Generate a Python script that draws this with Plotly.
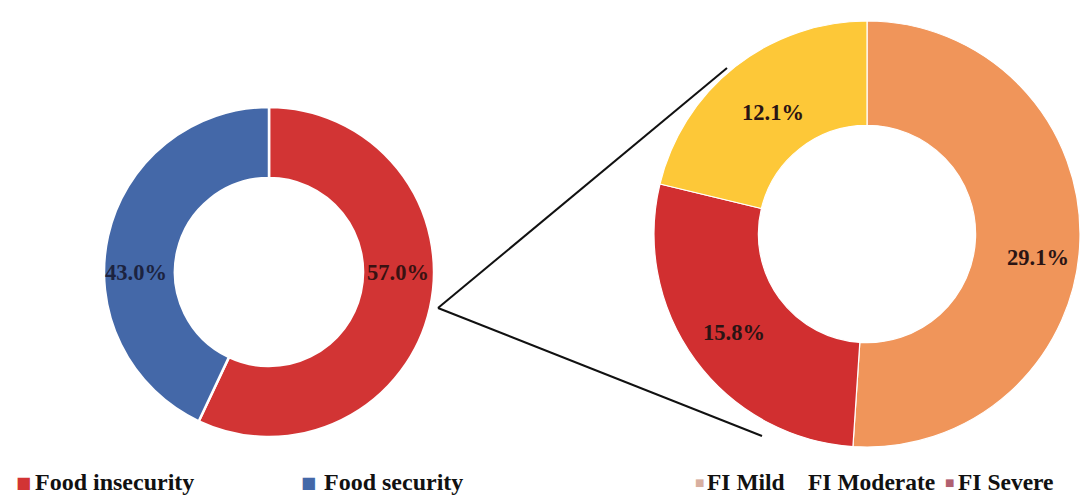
import plotly.graph_objects as go

# ---- data ----
left_labels = ["Food insecurity", "Food security"]
left_values = [57.0, 43.0]
left_text = ["57.0%", "43.0%"]
left_colors = ["#D23434", "#4468A8"]
left_text_colors = ["#3a1212", "#1c2340"]

right_labels = ["FI Mild", "FI Severe", "FI Moderate"]
right_values = [29.1, 15.8, 12.1]
right_text = ["29.1%", "15.8%", "12.1%"]
right_colors = ["#F0955A", "#D12F30", "#FDC838"]

legend_left = ["Food insecurity", "Food security"]
legend_right = ["FI Mild", "FI Moderate", "FI Severe"]

W, H = 1080, 495
FONT = "Liberation Serif"

fig = go.Figure()

fig.add_trace(go.Pie(
    labels=left_labels, values=left_values, text=left_text,
    textinfo="none",
    hole=0.57, sort=False, direction="clockwise", rotation=0,
    marker=dict(colors=left_colors, line=dict(color="white", width=2.5)),
    domain=dict(x=[104 / W, 434 / W], y=[58 / H, 388 / H]),
    showlegend=False, hoverinfo="label+percent",
))

fig.add_trace(go.Pie(
    labels=right_labels, values=right_values, text=right_text,
    textinfo="none",
    hole=0.51, sort=False, direction="clockwise", rotation=0,
    marker=dict(colors=right_colors, line=dict(color="white", width=1.2)),
    domain=dict(x=[654 / W, 1.0], y=[48 / H, 474 / H]),
    showlegend=False, hoverinfo="label+percent",
))

# pixel -> paper helper
def px(x, y):
    return x / W, 1 - y / H

# data labels, placed as in the reference
left_label_px = [(398, 272), (136, 272)]
for i, t in enumerate(left_text):
    p = px(*left_label_px[i])
    fig.add_annotation(x=p[0], y=p[1], xref="paper", yref="paper", text=t,
                       showarrow=False, xanchor="center", yanchor="middle",
                       font=dict(family=FONT, size=22.5, color=left_text_colors[i], weight="bold"))

right_label_px = [(1038, 257), (734, 332), (773, 112)]
for i, t in enumerate(right_text):
    p = px(*right_label_px[i])
    fig.add_annotation(x=p[0], y=p[1], xref="paper", yref="paper", text=t,
                       showarrow=False, xanchor="center", yanchor="middle",
                       font=dict(family=FONT, size=22.5, color="#2a1414", weight="bold"))

# connector lines
for (x1, y1) in [(727, 68), (762, 436)]:
    a = px(438, 308)
    b = px(x1, y1)
    fig.add_shape(type="line", xref="paper", yref="paper",
                  x0=a[0], y0=a[1], x1=b[0], y1=b[1],
                  line=dict(color="#111111", width=2))

# legends
leg_y = 1 - 482 / H
left_marker_x = [14, 299]
left_text_x = [33, 322]
for i, name in enumerate(legend_left):
    fig.add_annotation(x=left_marker_x[i] / W, y=leg_y, xref="paper", yref="paper",
                       text="■", showarrow=False, xanchor="left", yanchor="middle",
                       font=dict(size=16, color=left_colors[i], family="DejaVu Sans"))
    fig.add_annotation(x=left_text_x[i] / W, y=leg_y, xref="paper", yref="paper",
                       text=name, showarrow=False, xanchor="left", yanchor="middle",
                       font=dict(size=24, color="#111111", family=FONT, weight="bold"))

right_marker_colors = ["#D8AFA0", None, "#B06070"]
right_marker_x = [693, None, 943]
right_text_x = [705, 806, 956]
for i, name in enumerate(legend_right):
    if right_marker_x[i] is not None:
        fig.add_annotation(x=right_marker_x[i] / W, y=leg_y, xref="paper", yref="paper",
                           text="■", showarrow=False, xanchor="left", yanchor="middle",
                           font=dict(size=10, color=right_marker_colors[i], family="DejaVu Sans"))
    fig.add_annotation(x=right_text_x[i] / W, y=leg_y, xref="paper", yref="paper",
                       text=name, showarrow=False, xanchor="left", yanchor="middle",
                       font=dict(size=23.5, color="#111111", family=FONT, weight="bold"))

fig.update_layout(
    width=W, height=H, margin=dict(l=0, r=0, t=0, b=0),
    paper_bgcolor="white", plot_bgcolor="white",
)

fig.write_html("out.html")
